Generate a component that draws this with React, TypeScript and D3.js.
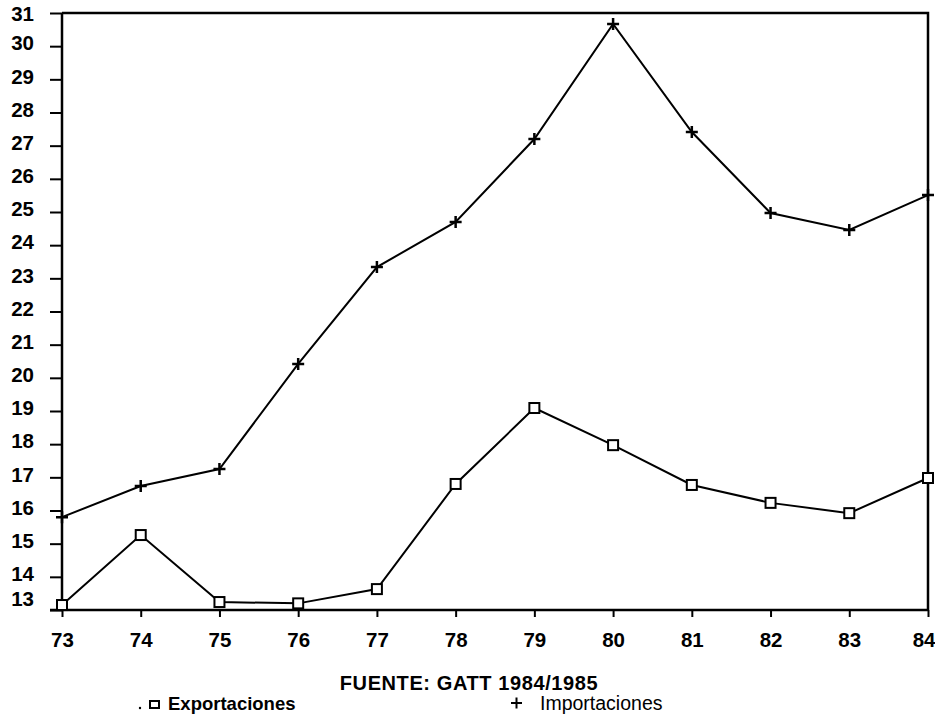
/*eslint-disable*/
import React, { useEffect, useRef } from 'react';
import * as d3 from 'd3';

// years on the x axis (19xx)
const years = [73, 74, 75, 76, 77, 78, 79, 80, 81, 82, 83, 84];
const exportaciones = [13.15, 15.26, 13.24, 13.2, 13.63, 16.8, 19.09, 17.97, 16.77, 16.23, 15.92, 16.98];
const importaciones = [15.8, 16.74, 17.25, 20.42, 23.34, 24.7, 27.2, 30.67, 27.41, 24.97, 24.46, 25.51];
const yTicks = d3.range(13, 32);
const source = 'FUENTE: GATT 1984/1985';
const legendLabels = ['Exportaciones', 'Importaciones'];

const App: React.FC = () => {
  const svgRef = useRef<SVGSVGElement>(null);

  useEffect(() => {
    const width = 935;
    const height = 715;
    const margin = { top: 13, right: 7, bottom: 105, left: 62 };
    const font = '"Liberation Sans", Arial, sans-serif';

    const svg = d3.select(svgRef.current)
      .attr('width', width)
      .attr('height', height);
    svg.selectAll('*').remove();

    const x = d3.scaleLinear()
      .domain([73, 84])
      .range([margin.left, width - margin.right]);
    const y = d3.scaleLinear()
      .domain([13, 31])
      .range([height - margin.bottom, margin.top]);

    const x0 = x(73), x1 = x(84), y0 = y(13), y1 = y(31);

    // frame
    svg.append('path')
      .attr('d', `M${x0},${y1}H${x1}V${y0}`)
      .attr('fill', 'none')
      .attr('stroke', '#000')
      .attr('stroke-width', 2.5);

    // y axis
    const yAxis = svg.append('g')
      .attr('transform', `translate(${x0},0)`)
      .call(d3.axisLeft(y).tickValues(yTicks).tickSize(12).tickFormat(d3.format('d')));
    yAxis.attr('font-size', null).attr('font-family', null);
    yAxis.select('.domain').attr('stroke-width', 2.5).attr('d', `M0,${y1}V${y0}`);
    yAxis.selectAll('.tick line').attr('stroke-width', 2);
    yAxis.selectAll('.tick text')
      .attr('x', -28)
      .attr('dy', (d: any) => (d === 13 ? '-0.2em' : d === 31 ? '0.38em' : '0.18em'))
      .attr('font-family', font)
      .attr('font-size', 20.5)
      .attr('font-weight', 'bold')
      .attr('fill', '#000');

    // x axis
    const xAxis = svg.append('g')
      .attr('transform', `translate(0,${y0})`)
      .call(d3.axisBottom(x).tickValues(years).tickSize(7).tickFormat(d3.format('d')));
    xAxis.attr('font-size', null).attr('font-family', null);
    xAxis.select('.domain').attr('stroke-width', 2.5).attr('d', `M${x0 - 12},0H${x1}`);
    xAxis.selectAll('.tick line').attr('stroke-width', 2);
    xAxis.selectAll('.tick text')
      .attr('y', 22)
      .attr('text-anchor', (d: any) => (d === 84 ? 'end' : 'middle'))
      .attr('x', (d: any) => (d === 84 ? 7 : 0))
      .attr('font-family', font)
      .attr('font-size', 20.5)
      .attr('font-weight', 'bold')
      .attr('fill', '#000');

    const line = d3.line<number>()
      .x((_, i) => x(years[i]))
      .y(d => y(d));

    svg.append('path')
      .datum(importaciones)
      .attr('d', line)
      .attr('fill', 'none')
      .attr('stroke', '#000')
      .attr('stroke-width', 2);

    svg.append('path')
      .datum(exportaciones)
      .attr('d', line)
      .attr('fill', 'none')
      .attr('stroke', '#000')
      .attr('stroke-width', 2);

    // plus markers
    svg.append('g')
      .selectAll('path')
      .data(importaciones)
      .enter()
      .append('path')
      .attr('d', (d, i) => {
        const cx = x(years[i]), cy = y(d);
        return `M${cx - 6},${cy}H${cx + 6}M${cx},${cy - 6}V${cy + 6}`;
      })
      .attr('stroke', '#000')
      .attr('stroke-width', 2.5);

    // square markers
    svg.append('g')
      .selectAll('rect')
      .data(exportaciones)
      .enter()
      .append('rect')
      .attr('x', (_, i) => x(years[i]) - 5)
      .attr('y', d => y(d) - 5)
      .attr('width', 10)
      .attr('height', 10)
      .attr('fill', '#fff')
      .attr('stroke', '#000')
      .attr('stroke-width', 2);

    // source note
    svg.append('text')
      .attr('x', 469)
      .attr('y', 690)
      .attr('text-anchor', 'middle')
      .attr('font-family', font)
      .attr('font-size', 20)
      .attr('font-weight', 'bold')
      .attr('letter-spacing', 0.6)
      .attr('fill', '#000')
      .text(source);

    // legend
    svg.append('circle')
      .attr('cx', 140)
      .attr('cy', 708)
      .attr('r', 1.2)
      .attr('fill', '#000');
    svg.append('rect')
      .attr('x', 150)
      .attr('y', 701)
      .attr('width', 9)
      .attr('height', 7)
      .attr('fill', 'none')
      .attr('stroke', '#000')
      .attr('stroke-width', 2);
    svg.append('text')
      .attr('x', 168)
      .attr('y', 710)
      .attr('font-family', font)
      .attr('font-size', 18.5)
      .attr('font-weight', 'bold')
      .attr('fill', '#000')
      .text(legendLabels[0]);
    svg.append('path')
      .attr('d', 'M511,703H522M516.5,697.5V708.5')
      .attr('stroke', '#000')
      .attr('stroke-width', 2);
    svg.append('text')
      .attr('x', 540)
      .attr('y', 710)
      .attr('font-family', font)
      .attr('font-size', 19.5)
      .attr('fill', '#000')
      .text(legendLabels[1]);
  }, []);

  return <svg ref={svgRef} style={{ position: 'absolute', left: 0, top: 0, background: '#fff' }}></svg>;
};

export default App;
